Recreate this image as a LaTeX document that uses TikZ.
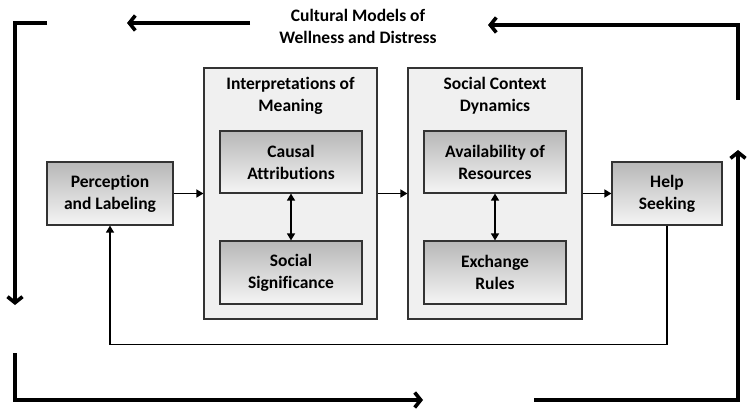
\documentclass[tikz,border=0pt]{standalone}
\usepackage{fontspec}
\setmainfont{Carlito}[Ligatures=NoCommon]
\usepackage{tikz}
\usetikzlibrary{arrows.meta,positioning}

\tikzset{
  box/.style={draw=black!80, line width=1.1pt, top color=black!28, bottom color=black!4,
    align=center, inner sep=0pt, font=\bfseries\fontsize{17.5}{22}\selectfont},
  group/.style={draw=black!80, line width=1.1pt, fill=black!6, inner sep=0pt},
  grouptitle/.style={align=center, font=\bfseries\fontsize{17.5}{22}\selectfont},
  flow/.style={line width=1.3pt, -{Triangle[length=7pt,width=8pt]}},
  twoway/.style={line width=1.3pt, {Triangle[length=7pt,width=8pt]}-{Triangle[length=7pt,width=8pt]}},
  cycle/.style={line width=3.6pt, -{Straight Barb[length=6pt,width=15pt,line width=3.6pt]}}
}

\begin{document}
\begin{tikzpicture}[x=1pt,y=-1pt]
    \useasboundingbox (0,0) rectangle (755,417);
    % the two groups
    \node [group, minimum width=173pt, minimum height=251pt] (interp) at (290.5,193.5) {};
    \node [group, minimum width=174pt, minimum height=251pt] (context) at (495,193.5) {};
    \node [grouptitle] (interptitle) at (290.5,96) {Interpretations of\\Meaning};
    \node [grouptitle] (contexttitle) at (495,96) {Social Context\\Dynamics};
    % boxes
    \node [box, minimum width=126pt, minimum height=63pt] (percep) at (110,193.5) {Perception\\and Labeling};
    \node [box, minimum width=110pt, minimum height=63pt] (help) at (667,193.5) {Help\\Seeking};
    \node [box, minimum width=142pt, minimum height=62pt] (causal) at (291,162) {Causal\\Attributions};
    \node [box, minimum width=142pt, minimum height=63pt] (signif) at (291,272.5) {Social\\Significance};
    \node [box, minimum width=142pt, minimum height=62pt] (avail) at (495,162) {Availability of\\Resources};
    \node [box, minimum width=142pt, minimum height=63pt] (exch) at (495,272.5) {Exchange\\Rules};
    % connectors
    \draw [flow] (percep) -- (percep -| interp.west);
    \draw [flow] (interp.east |- percep) -- (context.west |- percep);
    \draw [flow] (context.east |- help) -- (help);
    \draw [twoway] (causal) -- (signif);
    \draw [twoway] (avail) -- (exch);
    \draw [flow] (help.south) -- ++(0,119) -| (percep.south);
    % outer cycle
    \node [grouptitle] (culture) at (358,26) {Cultural Models of\\Wellness and Distress};
    \coordinate (tl) at (47,23);
    \coordinate (tlend) at (15,305);
    \coordinate (ta) at (250,23);
    \coordinate (taend) at (127,23);
    \coordinate (tr) at (738,100);
    \coordinate (trend) at (488,25);
    \coordinate (br) at (534,400);
    \coordinate (brend) at (738,150);
    \coordinate (bl) at (15,353);
    \coordinate (blend) at (423,400);
    \draw [cycle] (tl) -| (tlend);
    \draw [cycle] (ta) -- (taend);
    \draw [cycle] (tr) |- (trend);
    \draw [cycle] (br) -| (brend);
    \draw [cycle] (bl) |- (blend);
\end{tikzpicture}
\end{document}
